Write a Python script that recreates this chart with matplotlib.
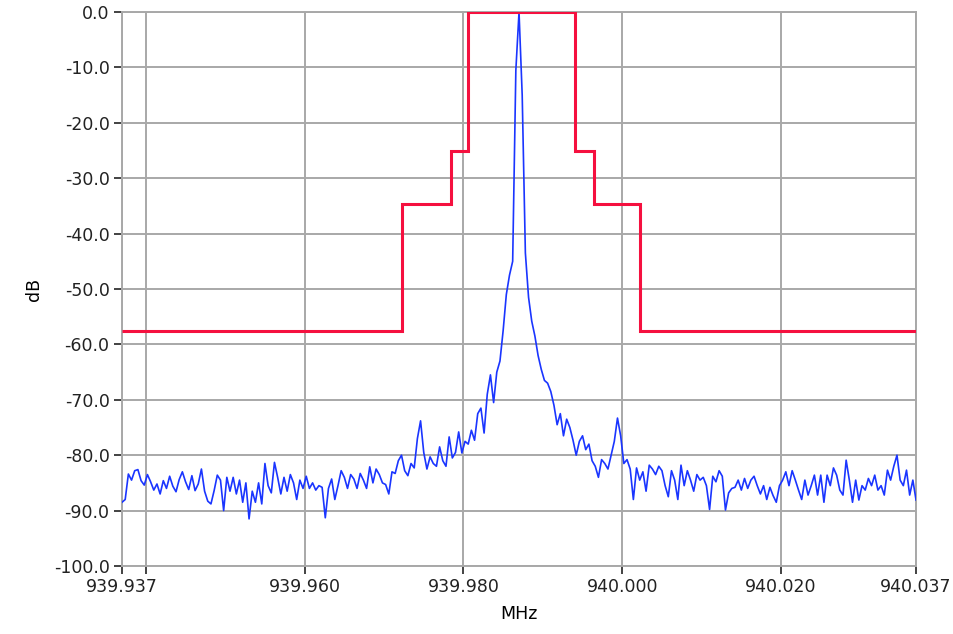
import numpy as np
import matplotlib
matplotlib.use("Agg")
import matplotlib.pyplot as plt

# spectrum trace (dB), one value per 0.4 kHz from 939.937 MHz
F_START, F_STEP = 939.937, 0.0004
level_db = [
    -88.5, -88.0, -83.4, -84.5, -82.8, -82.6, -84.6, -85.4, -83.5, -84.8,
    -86.3, -85.2, -87.0, -84.6, -86.0, -83.8, -85.6, -86.6, -84.4, -83.0,
    -84.8, -86.2, -83.7, -86.4, -85.2, -82.5, -86.5, -88.3, -88.8, -86.4,
    -83.6, -84.5, -90.0, -84.0, -86.5, -84.0, -87.0, -84.5, -88.5, -85.0,
    -91.5, -86.5, -88.5, -85.0, -88.8, -81.5, -85.5, -86.8, -81.3, -84.0,
    -87.0, -84.0, -86.5, -83.5, -85.0, -88.0, -84.5, -86.0, -83.8, -86.0,
    -85.0, -86.3, -85.5, -85.8, -91.3, -86.0, -84.3, -88.0, -85.5, -82.8,
    -84.0, -86.0, -83.5, -84.3, -86.0, -83.3, -84.5, -86.0, -82.1, -85.0,
    -82.5, -83.5, -85.0, -85.3, -87.0, -83.0, -83.3, -81.0, -80.0, -82.8,
    -83.7, -81.5, -82.3, -77.0, -73.8, -79.5, -82.5, -80.3, -81.5, -82.0,
    -78.5, -81.0, -82.0, -76.7, -80.5, -79.5, -75.8, -79.6, -77.5, -78.0,
    -75.5, -77.3, -72.5, -71.5, -76.0, -69.0, -65.5, -70.5, -65.0, -63.0,
    -57.5, -51.0, -47.5, -45.0, -10.5, 0.0, -15.0, -43.5, -51.5, -55.8,
    -58.5, -62.0, -64.5, -66.5, -67.0, -68.5, -71.0, -74.5, -72.5, -76.5,
    -73.5, -75.0, -77.3, -80.0, -77.5, -76.5, -79.0, -78.0, -81.0, -82.0,
    -84.0, -80.8, -81.5, -82.5, -80.0, -77.5, -73.3, -76.5, -81.5, -80.8,
    -82.5, -88.0, -82.3, -84.5, -83.0, -86.5, -81.8, -82.5, -83.5, -82.0,
    -82.8, -85.5, -87.5, -82.8, -84.5, -88.0, -81.8, -85.5, -82.8, -84.5,
    -86.5, -83.5, -84.5, -84.0, -85.5, -89.8, -83.8, -84.8, -82.8, -83.8,
    -89.9, -86.8, -86.0, -85.8, -84.5, -86.3, -84.2, -86.0, -84.5, -83.8,
    -85.5, -87.0, -85.5, -88.0, -85.8, -87.3, -88.5, -85.5, -84.5, -83.0,
    -85.5, -82.8, -84.5, -86.3, -88.0, -84.5, -87.2, -85.5, -83.6, -87.2,
    -83.6, -88.5, -83.6, -85.5, -82.3, -83.6, -86.3, -87.2, -80.9, -84.5,
    -88.5, -84.5, -88.1, -85.5, -86.3, -84.2, -85.5, -83.6, -86.3, -85.5,
    -87.2, -82.7, -84.5, -82.0, -80.0, -84.5, -85.5, -82.7, -87.2, -84.5,
    -88.1,
]

# spectrum mask: segment edges (MHz) and level of each segment (dB)
mask_edges = [939.937, 939.9723, 939.9784, 939.9806, 939.9940, 939.9964, 940.0022, 940.037]
mask_db = [-57.5, -34.7, -25.0, 0.0, -25.0, -34.7, -57.5]

x_ticks = [939.937, 939.94, 939.96, 939.98, 940.00, 940.02, 940.037]
x_labels = ["939.937", "", "939.960", "939.980", "940.000", "940.020", "940.037"]
y_ticks = list(range(-100, 1, 10))

freq = F_START + F_STEP * np.arange(len(level_db))

plt.rcParams["font.family"] = ["DejaVu Sans"]
fig = plt.figure(figsize=(9.54, 6.34), dpi=100)
ax = fig.add_axes([0.1279, 0.1073, 0.8323, 0.8737])

ax.plot(freq, level_db, color="#1a35ff", lw=1.2, zorder=3)
ax.stairs(mask_db, mask_edges, baseline=None, color="#f5103f", lw=2.2, zorder=4)

ax.set_xlim(939.937, 940.037)
ax.set_ylim(-100, 0)
ax.set_xticks(x_ticks)
ax.set_xticklabels(x_labels)
ax.set_yticks(y_ticks)
ax.set_yticklabels([f"{v:.1f}" for v in y_ticks])
ax.grid(True, color="#a8a8a8", lw=1.4, zorder=0)
ax.set_axisbelow(True)
for s in ax.spines.values():
    s.set_color("#a8a8a8")
    s.set_linewidth(1.4)
ax.tick_params(labelsize=12.5, colors="#222222", length=6, width=1.2, pad=3)
ax.set_xlabel("MHz", fontsize=12.5, labelpad=6)
ax.set_ylabel("dB", fontsize=12.5, labelpad=8)

fig.savefig("out.png", dpi=100)
